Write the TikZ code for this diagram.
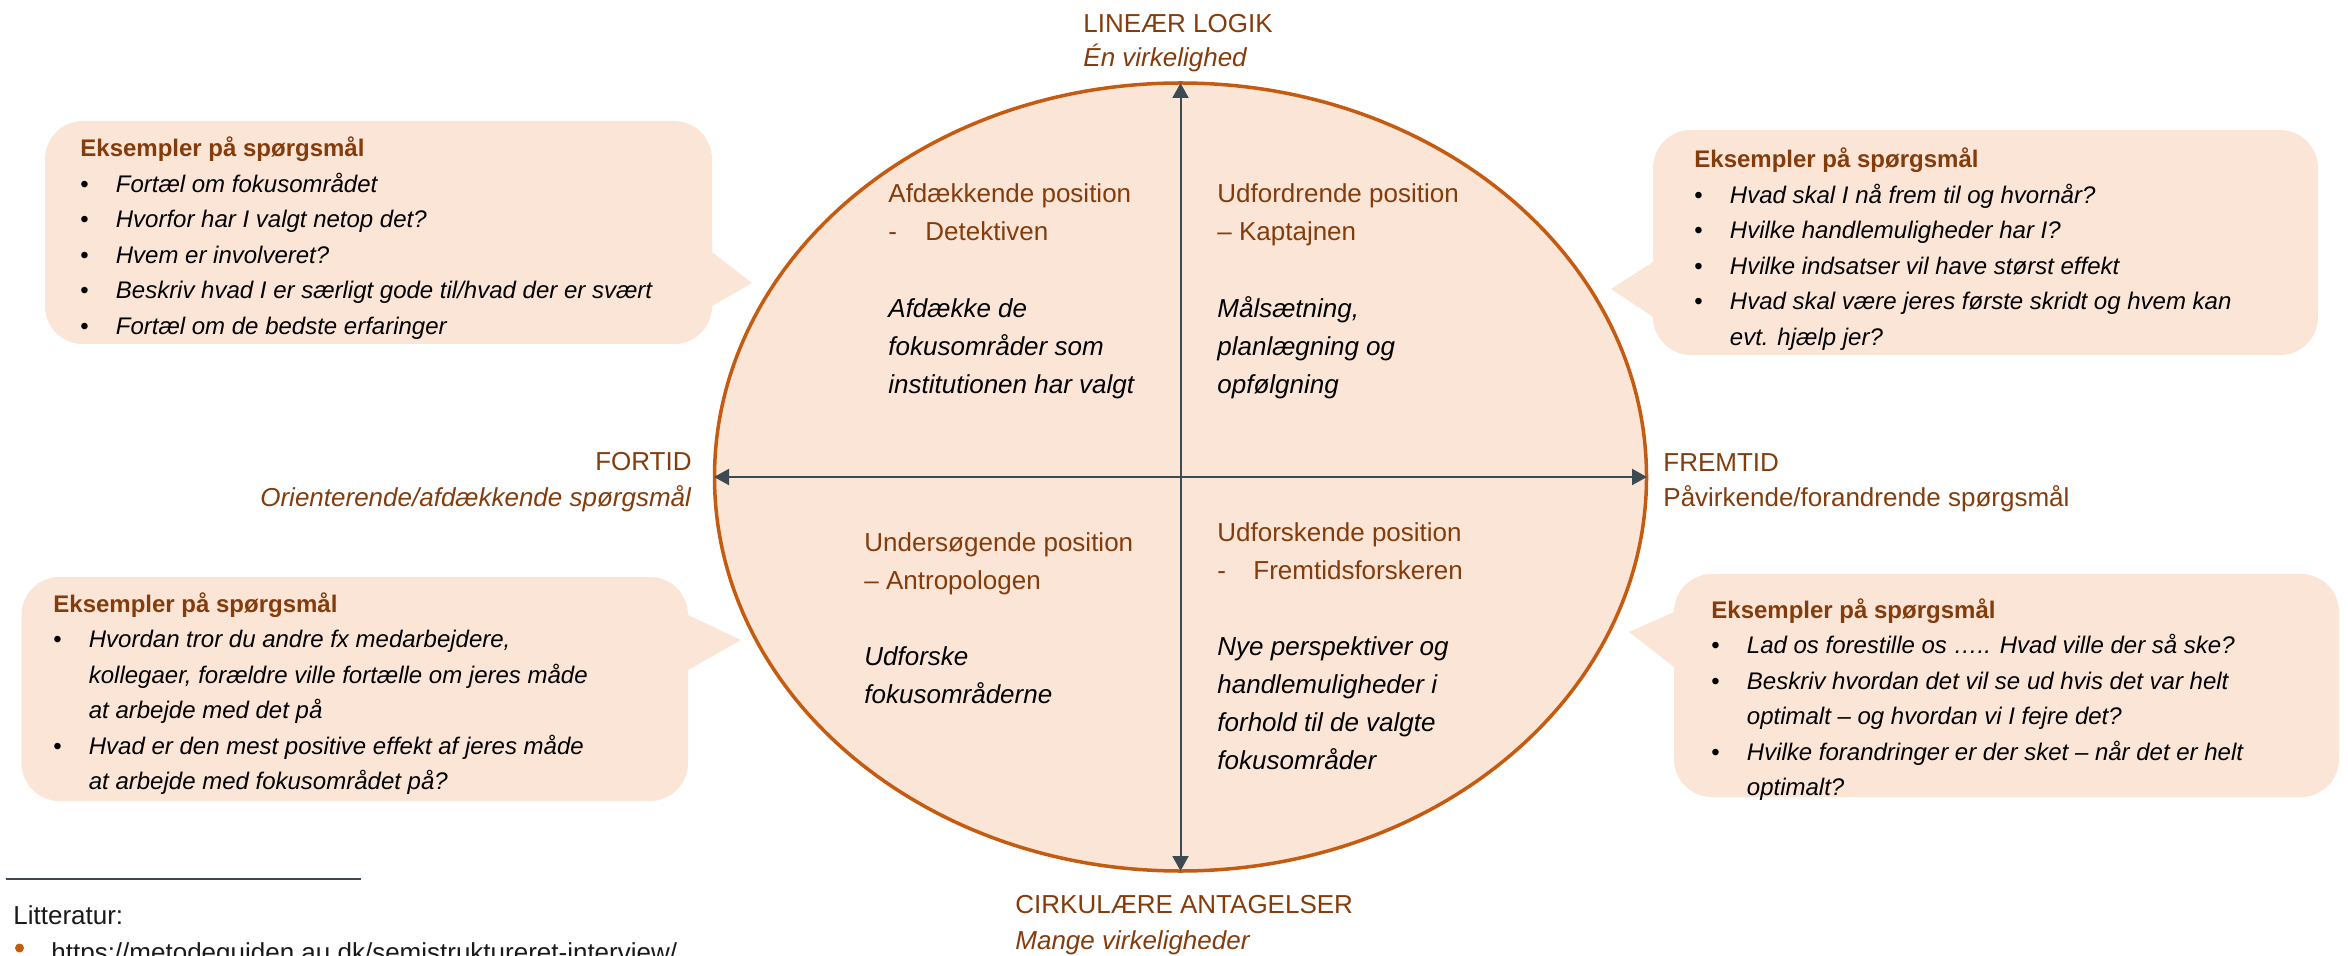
\documentclass[tikz,border=0pt]{standalone}
\usepackage{fontspec}
\setmainfont{Liberation Sans}
\usetikzlibrary{arrows.meta}
\definecolor{peach}{HTML}{FBE5D6}
\definecolor{rim}{HTML}{C55A11}
\definecolor{brn}{HTML}{843C0C}
\definecolor{axiscol}{HTML}{3E4A52}
\definecolor{txt}{HTML}{1A1A1A}
\newcommand{\myitem}[1]{\makebox[17.75pt][l]{\textbullet}\textit{#1}}
\newcommand{\mycont}[1]{\hspace*{17.75pt}\textit{#1}}
\newcommand{\mytitle}{{\bfseries\color{brn}Eksempler på spørgsmål}}
\begin{document}
\begin{tikzpicture}[x=0.5pt,y=-0.5pt,
  bubble/.style={fill=peach, rounded corners=19pt},
  tailfill/.style={fill=peach},
  qhead/.style={anchor=base west, inner sep=0pt, align=left, text=brn, font=\fontsize{13}{19}\selectfont},
  qbody/.style={anchor=base west, inner sep=0pt, align=left, text=black, font=\fontsize{13}{19}\selectfont\itshape},
  axlbl/.style={inner sep=0pt, text=brn, font=\fontsize{13}{17.5}\selectfont},
  blist/.style={anchor=base west, inner sep=0pt, align=left, text=black, font=\fontsize{12}{17.75}\selectfont},
  axarrow/.style={draw=axiscol, line width=1pt, {Triangle[length=7.5pt,width=8pt]}-{Triangle[length=7.5pt,width=8pt]}},
]
\clip (0,0) rectangle (2348,956);

% ellipse
\draw[draw=rim, fill=peach, line width=1.75pt] (1180.5,477) ellipse [x radius=233pt, y radius=197pt];

% axes
\coordinate (N) at (1180.5,83);
\coordinate (S) at (1180.5,871);
\coordinate (W) at (714,477);
\coordinate (E) at (1647,477);
\draw[axarrow] (W) -- (E);
\draw[axarrow] (S) -- (N);

% axis labels (anchor = baseline of last line)
\node[axlbl, anchor=base west, align=left, font=\fontsize{13}{17}\selectfont] (toplbl) at (1083,67) {LINEÆR LOGIK\\\textit{Én virkelighed}};
\node[axlbl, anchor=base west, align=left, font=\fontsize{13}{18}\selectfont] (botlbl) at (1015,949) {CIRKULÆRE ANTAGELSER\\\textit{Mange virkeligheder}};
\node[axlbl, anchor=base east, align=right] (leftlbl) at (692,506) {FORTID\\\textit{Orienterende/afdækkende spørgsmål}};
\node[axlbl, anchor=base west, align=left] (rightlbl) at (1663,507) {FREMTID\\Påvirkende/forandrende spørgsmål};

% quadrants
\node[qhead] (q1h) at (888,241) {Afdækkende position\\\makebox[18.5pt][l]{-}Detektiven};
\node[qbody] (q1b) at (888,394) {Afdække de\\fokusområder som\\institutionen har valgt};
\node[qhead] (q2h) at (1217,241) {Udfordrende position\\– Kaptajnen};
\node[qbody] (q2b) at (1217,394) {Målsætning,\\planlægning og\\opfølgning};
\node[qhead] (q3h) at (864,589) {Undersøgende position\\– Antropologen};
\node[qbody] (q3b) at (864,703) {Udforske\\fokusområderne};
\node[qhead] (q4h) at (1217,579) {Udforskende position\\\makebox[18pt][l]{-}Fremtidsforskeren};
\node[qbody] (q4b) at (1217,769) {Nye perspektiver og\\handlemuligheder i\\forhold til de valgte\\fokusområder};

% top-left bubble
\fill[bubble] (45,121) rectangle (712,344);
\fill[tailfill] (700,252) -- (712,252) -- (752,283) -- (712,306) -- (700,306) -- cycle;
\node[blist] (tlb) at (80,334.5) {\mytitle\\
\myitem{Fortæl om fokusområdet}\\
\myitem{Hvorfor har I valgt netop det?}\\
\myitem{Hvem er involveret?}\\
\myitem{Beskriv hvad I er særligt gode til/hvad der er svært}\\
\myitem{Fortæl om de bedste erfaringer}};

% top-right bubble
\fill[bubble] (1653,130) rectangle (2318,355);
\fill[tailfill] (1665,262) -- (1653,262) -- (1611,289) -- (1653,317) -- (1665,317) -- cycle;
\node[blist] (trb) at (1694,345.5) {\mytitle\\
\myitem{Hvad skal I nå frem til og hvornår?}\\
\myitem{Hvilke handlemuligheder har I?}\\
\myitem{Hvilke indsatser vil have størst effekt}\\
\myitem{Hvad skal være jeres første skridt og hvem kan}\\
\mycont{evt. hjælp jer?}};

% bottom-left bubble
\fill[bubble] (21.5,577) rectangle (688,801);
\fill[tailfill] (676,615) -- (688,615) -- (741,640) -- (688,670) -- (676,670) -- cycle;
\node[blist] (blb) at (53,789.5) {\mytitle\\
\myitem{Hvordan tror du andre fx medarbejdere,}\\
\mycont{kollegaer, forældre ville fortælle om jeres måde}\\
\mycont{at arbejde med det på}\\
\myitem{Hvad er den mest positive effekt af jeres måde}\\
\mycont{at arbejde med fokusområdet på?}};

% bottom-right bubble
\fill[bubble] (1674,574) rectangle (2339,797);
\fill[tailfill] (1686,612) -- (1674,612) -- (1629,632) -- (1674,667) -- (1686,667) -- cycle;
\node[blist] (brb) at (1711,795.5) {\mytitle\\
\myitem{Lad os forestille os ….. Hvad ville der så ske?}\\
\myitem{Beskriv hvordan det vil se ud hvis det var helt}\\
\mycont{optimalt – og hvordan vi I fejre det?}\\
\myitem{Hvilke forandringer er der sket – når det er helt}\\
\mycont{optimalt?}};

% footer
\coordinate (ruleA) at (6,879);
\coordinate (ruleB) at (361,879);
\draw[draw=axiscol, line width=1.25pt] (ruleA) -- (ruleB);
\node[anchor=base west, inner sep=0pt, text=txt, font=\fontsize{13}{15}\selectfont] (lit) at (13,924) {Litteratur:};
\fill[rim] (19.5,948) circle [radius=2.25pt];
\node[anchor=base west, inner sep=0pt, text=txt, font=\fontsize{13}{15}\selectfont] (url) at (51,961) {https://metodeguiden.au.dk/semistruktureret-interview/};
\end{tikzpicture}
\end{document}
